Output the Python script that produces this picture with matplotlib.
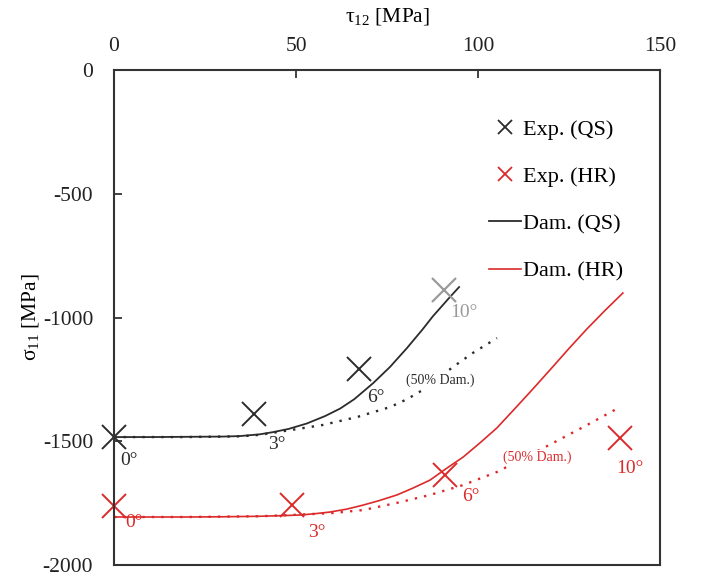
import numpy as np
import matplotlib.pyplot as plt
from matplotlib.lines import Line2D

plt.rcParams['font.family'] = ['Liberation Serif', 'DejaVu Serif']
plt.rcParams['mathtext.fontset'] = 'stix'
plt.rcParams['axes.unicode_minus'] = False

# experimental points
exp_qs_x = [0, 38.5, 67.3]
exp_qs_y = [-1483, -1390, -1208]
exp_qs10_x = [90.6]
exp_qs10_y = [-889]
exp_hr_x = [0, 48.9, 90.9, 139]
exp_hr_y = [-1762, -1758, -1636, -1487]

# damage model curves
dam_qs_x = [0, 10, 20, 30, 34.6, 40, 43.7, 48, 53, 58, 62.1, 66, 71.2, 75.8, 80.5, 84.6, 87.6, 92.3, 94.8]
dam_qs_y = [-1483, -1483, -1482, -1481, -1479, -1472, -1463, -1450, -1428, -1398, -1368, -1330, -1265, -1200,
            -1123, -1051, -995, -917, -877]
dam_qs50_x = [0, 20, 35, 40, 48.4, 57.4, 66.8, 75.8, 80.5, 84.9, 89, 93.1, 98.6, 105.2]
dam_qs50_y = [-1483, -1483, -1480, -1474, -1455, -1434, -1402, -1362, -1330, -1292, -1247, -1200, -1143, -1083]
dam_hr_x = [0, 10, 20, 30, 40, 45, 51.1, 55, 59.3, 64, 68.4, 73, 77.7, 82, 86.8, 91.5, 95.9, 100.5, 105.2,
            110, 115, 120, 125, 130, 135, 139.8]
dam_hr_y = [-1806, -1806, -1806, -1805, -1803, -1801, -1798, -1793, -1786, -1774, -1758, -1739, -1717, -1690,
            -1657, -1608, -1564, -1507, -1446, -1370, -1290, -1208, -1125, -1045, -970, -901]
dam_hr50_x = [0, 20, 40, 50, 60, 68.4, 77.7, 86.8, 95.9, 105.2, 112, 120.6, 130, 139]
dam_hr50_y = [-1806, -1806, -1803, -1797, -1790, -1778, -1749, -1717, -1677, -1624, -1573, -1507, -1434, -1362]

black = '#2b2b2b'
red = '#dc2a2a'
gray = '#9a9a9a'

fig = plt.figure(figsize=(7.04, 5.81), dpi=100)
ax = fig.add_axes([0.162, 0.0275, 0.7755, 0.852])

ax.plot(dam_qs_x, dam_qs_y, color=black, lw=1.3)
ax.plot(dam_qs50_x, dam_qs50_y, color=black, lw=1.7, ls=(0, (1, 3)))
ax.plot(dam_hr_x, dam_hr_y, color=red, lw=1.2)
ax.plot(dam_hr50_x, dam_hr50_y, color=red, lw=1.7, ls=(0, (1, 3)))

ax.plot(exp_qs_x, exp_qs_y, 'x', color=black, ms=17, mew=1.4, clip_on=False)
ax.plot(exp_qs10_x, exp_qs10_y, 'x', color=gray, ms=17, mew=1.6, clip_on=False)
ax.plot(exp_hr_x, exp_hr_y, 'x', color=red, ms=17, mew=1.4, clip_on=False)

# angle labels
fs = 14
ax.text(1.6, -1576, '0°', color=black, fontsize=fs, va='center')
ax.text(42.3, -1515, '3°', color=black, fontsize=fs, va='center')
ax.text(69.5, -1325, '6°', color=black, fontsize=fs, va='center')
ax.text(92.3, -978, '10°', color=gray, fontsize=fs, va='center')
ax.text(3.0, -1830, '0°', color=red, fontsize=fs, va='center')
ax.text(53.3, -1867, '3°', color=red, fontsize=fs, va='center')
ax.text(95.6, -1725, '6°', color=red, fontsize=fs, va='center')
ax.text(138, -1608, '10°', color=red, fontsize=fs, va='center')
box = dict(facecolor='white', edgecolor='none', pad=0.5)
ax.text(89.6, -1253, '(50% Dam.)', color=black, fontsize=10, va='center', ha='center', bbox=box, zorder=3)
ax.text(116.2, -1564, '(50% Dam.)', color=red, fontsize=10, va='center', ha='center', bbox=box, zorder=3)

ax.set_xlim(0, 150)
ax.set_ylim(-2000, 0)
ax.xaxis.tick_top()
ax.xaxis.set_label_position('top')
ax.set_xticks([0, 50, 100, 150])
ax.set_yticks([0, -500, -1000, -1500, -2000])
ax.tick_params(direction='in', length=6, width=1.2, labelsize=15.5, colors='#222222')
ax.tick_params(axis='x', pad=10)
ax.tick_params(axis='y', pad=15)
ax.set_xlabel(r'$\mathregular{\tau_{12}}$ [MPa]', fontsize=15.5, labelpad=11)
ax.set_ylabel(r'$\mathregular{\sigma_{11}}$ [MPa]', fontsize=15.5, labelpad=1)
for s in ax.spines.values():
    s.set_linewidth(1.5)
    s.set_color('#333333')

handles = [
    Line2D([], [], ls='none', marker='x', color=black, ms=10, mew=1.3),
    Line2D([], [], ls='none', marker='x', color=red, ms=10, mew=1.3),
    Line2D([], [], color=black, lw=1.3),
    Line2D([], [], color=red, lw=1.2),
]
labels = ['Exp. (QS)', 'Exp. (HR)', 'Dam. (QS)', 'Dam. (HR)']
ax.legend(handles, labels, loc='upper left', bbox_to_anchor=(0.651, 0.941), frameon=False,
          fontsize=16, handlelength=1.4, handletextpad=0.1, labelspacing=1.2)

plt.savefig('out.png')
